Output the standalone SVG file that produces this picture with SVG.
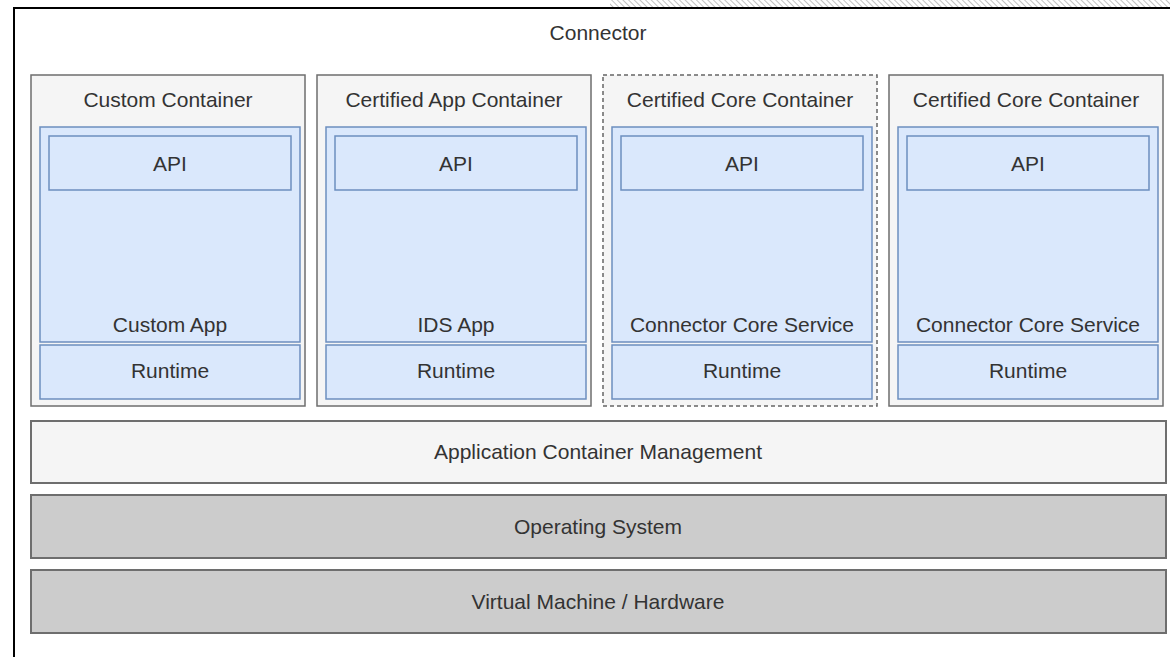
<svg xmlns="http://www.w3.org/2000/svg" width="1170" height="657" viewBox="0 0 1170 657">
<defs>
<pattern id="hatch" width="4" height="4" patternUnits="userSpaceOnUse" patternTransform="rotate(-45)">
<line x1="0" y1="0" x2="0" y2="4" stroke="#999" stroke-width="1.2"/>
</pattern>
</defs>
<style>
text{font-family:"Liberation Sans",Arial,Helvetica,sans-serif;font-size:21px;fill:#333;text-anchor:middle}
.cont{fill:#f5f5f5;stroke:#6e6e6e;stroke-width:1.5}
.dash{fill:#f5f5f5;stroke:#666;stroke-width:1.5;stroke-dasharray:4 3}
.blue{fill:#dae8fc;stroke:#6c8ebf;stroke-width:1.5}
.light{fill:#f5f5f5;stroke:#6e6e6e;stroke-width:2}
.gray{fill:#cccccc;stroke:#6e6e6e;stroke-width:2}
</style>
<rect x="0" y="0" width="1170" height="657" fill="#ffffff"/>
<rect x="610" y="0" width="560" height="7" fill="url(#hatch)"/>
<g id="connector">
<rect x="14" y="8" width="1170" height="660" fill="#ffffff" stroke="#000" stroke-width="2"/>
<text x="598" y="40">Connector</text>
</g>
<g id="custom-container">
<rect class="cont" x="31" y="75" width="274" height="331"/>
<text x="168" y="107">Custom Container</text>
<rect class="blue" x="40" y="127" width="260" height="215"/>
<text x="170" y="332">Custom App</text>
<rect class="blue" x="49" y="136" width="242" height="54"/>
<text x="170" y="171">API</text>
<rect class="blue" x="40" y="345" width="260" height="54"/>
<text x="170" y="378">Runtime</text>
</g>
<g id="certified-app-container">
<rect class="cont" x="317" y="75" width="274" height="331"/>
<text x="454" y="107">Certified App Container</text>
<rect class="blue" x="326" y="127" width="260" height="215"/>
<text x="456" y="332">IDS App</text>
<rect class="blue" x="335" y="136" width="242" height="54"/>
<text x="456" y="171">API</text>
<rect class="blue" x="326" y="345" width="260" height="54"/>
<text x="456" y="378">Runtime</text>
</g>
<g id="certified-core-container-1">
<rect class="dash" x="603" y="75" width="274" height="331"/>
<text x="740" y="107">Certified Core Container</text>
<rect class="blue" x="612" y="127" width="260" height="215"/>
<text x="742" y="332">Connector Core Service</text>
<rect class="blue" x="621" y="136" width="242" height="54"/>
<text x="742" y="171">API</text>
<rect class="blue" x="612" y="345" width="260" height="54"/>
<text x="742" y="378">Runtime</text>
</g>
<g id="certified-core-container-2">
<rect class="cont" x="889" y="75" width="274" height="331"/>
<text x="1026" y="107">Certified Core Container</text>
<rect class="blue" x="898" y="127" width="260" height="215"/>
<text x="1028" y="332">Connector Core Service</text>
<rect class="blue" x="907" y="136" width="242" height="54"/>
<text x="1028" y="171">API</text>
<rect class="blue" x="898" y="345" width="260" height="54"/>
<text x="1028" y="378">Runtime</text>
</g>
<g id="app-container-management">
<rect class="light" x="31" y="421" width="1135" height="62"/>
<text x="598" y="459">Application Container Management</text>
</g>
<g id="operating-system">
<rect class="gray" x="31" y="495" width="1135" height="63"/>
<text x="598" y="534">Operating System</text>
</g>
<g id="virtual-machine">
<rect class="gray" x="31" y="570" width="1135" height="63"/>
<text x="598" y="609">Virtual Machine / Hardware</text>
</g>
<g id="connectors"></g>
</svg>
